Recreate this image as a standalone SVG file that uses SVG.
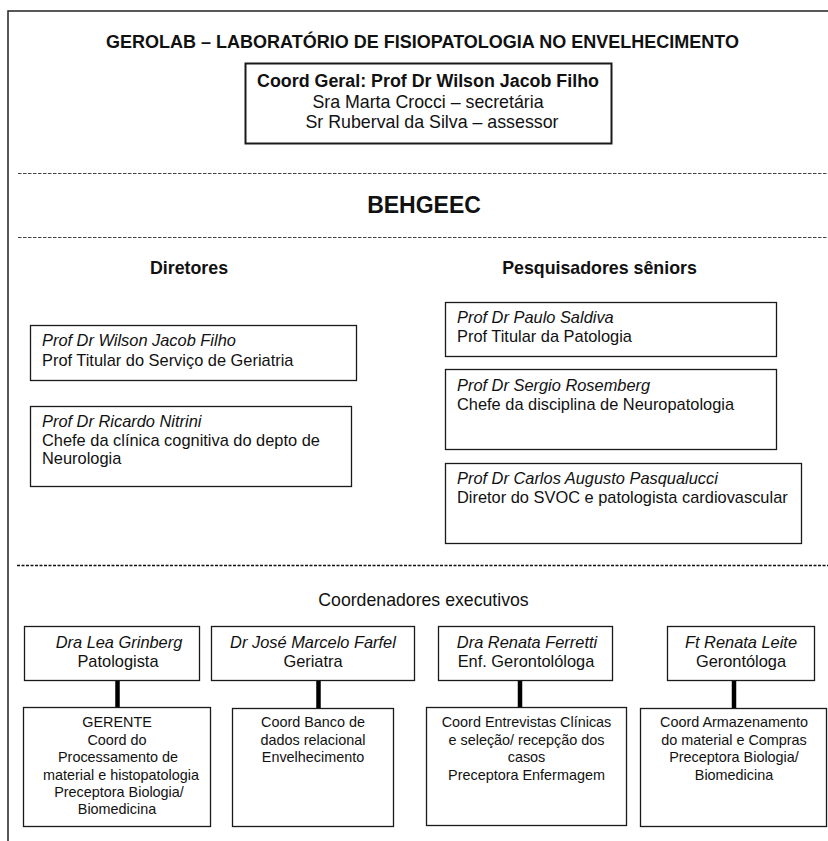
<svg xmlns="http://www.w3.org/2000/svg" width="828" height="841" viewBox="0 0 828 841">
<style>
text{font-family:"Liberation Sans",Arial,Helvetica,sans-serif;fill:#111}
.b{font-weight:bold}
.t{font-size:18px;font-weight:bold}
.h{font-size:17.8px;font-weight:bold}
.n{font-size:16.4px}
.i{font-size:16.4px;font-style:italic}
.s{font-size:14.4px}
.c{text-anchor:middle}
.box{fill:#fff;stroke:#1a1a1a;stroke-width:1.3}
.dash{stroke:#444;stroke-width:1;stroke-dasharray:3.5 1.5;fill:none}
.dash2{stroke:#111;stroke-width:1.6;stroke-dasharray:3 1.5;fill:none}
.con{stroke:#000;stroke-width:4.5;fill:none}
</style>
<rect x="0" y="0" width="828" height="841" fill="#fff"/>
<g id="frame">
<path d="M8 841 V11 H828" fill="none" stroke="#222" stroke-width="1.5"/>
<line class="dash" x1="18" y1="173.5" x2="828" y2="173.5"/>
<line class="dash" x1="18" y1="237.5" x2="828" y2="237.5"/>
<line class="dash2" x1="17" y1="565.5" x2="828" y2="565.5"/>
</g>
<g id="titles">
<text class="t c" x="422.5" y="48" textLength="633" lengthAdjust="spacingAndGlyphs">GEROLAB – LABORATÓRIO DE FISIOPATOLOGIA NO ENVELHECIMENTO</text>
<text class="b c" x="424" y="213" font-size="23">BEHGEEC</text>
<text class="h c" x="189" y="274">Diretores</text>
<text class="h c" x="599.5" y="274">Pesquisadores sêniors</text>
<text class="c" x="423.5" y="606" font-size="17.7">Coordenadores executivos</text>
</g>
<g id="coord-geral">
<rect x="245.5" y="63.5" width="366" height="80" fill="#fff" stroke="#1a1a1a" stroke-width="2"/>
<text class="t c" x="428" y="87" textLength="342" lengthAdjust="spacingAndGlyphs">Coord Geral: Prof Dr Wilson Jacob Filho</text>
<text class="c" x="428" y="108" font-size="17.8">Sra Marta Crocci – secretária</text>
<text class="c" x="432" y="128" font-size="17.8">Sr Ruberval da Silva – assessor</text>
</g>
<g id="dir-wilson">
<rect class="box" x="30.5" y="325.5" width="326" height="55"/>
<text class="i" x="42" y="346">Prof Dr Wilson Jacob Filho</text>
<text class="n" x="42" y="366">Prof Titular do Serviço de Geriatria</text>
</g>
<g id="dir-ricardo">
<rect class="box" x="30.5" y="406.5" width="321" height="80"/>
<text class="i" x="42" y="427">Prof Dr Ricardo Nitrini</text>
<text class="n" x="42" y="446">Chefe da clínica cognitiva do depto de</text>
<text class="n" x="42" y="464">Neurologia</text>
</g>
<g id="pes-saldiva">
<rect class="box" x="445.5" y="302.5" width="331" height="54"/>
<text class="i" x="457" y="323">Prof Dr Paulo Saldiva</text>
<text class="n" x="457" y="342">Prof Titular da Patologia</text>
</g>
<g id="pes-rosemberg">
<rect class="box" x="445.5" y="369.5" width="331" height="80"/>
<text class="i" x="457" y="391">Prof Dr Sergio Rosemberg</text>
<text class="n" x="457" y="410">Chefe da disciplina de Neuropatologia</text>
</g>
<g id="pes-pasqualucci">
<rect class="box" x="445.5" y="463.5" width="356" height="80"/>
<text class="i" x="457" y="484">Prof Dr Carlos Augusto Pasqualucci</text>
<text class="n" x="457" y="503">Diretor do SVOC e patologista cardiovascular</text>
</g>
<g id="connectors">
<line class="con" x1="117.5" y1="680" x2="117.5" y2="707"/>
<line class="con" x1="318.5" y1="680" x2="318.5" y2="708"/>
<line class="con" x1="520" y1="681" x2="520" y2="707"/>
<line class="con" x1="734" y1="680" x2="734" y2="708"/>
</g>
<g id="exec-lea">
<rect class="box" x="24.5" y="626.5" width="175" height="54"/>
<text class="i c" x="119" y="648">Dra Lea Grinberg</text>
<text class="n c" x="118" y="667">Patologista</text>
</g>
<g id="exec-jose">
<rect class="box" x="211.5" y="626.5" width="203" height="54"/>
<text class="i c" x="313" y="648">Dr José Marcelo Farfel</text>
<text class="n c" x="313" y="667">Geriatra</text>
</g>
<g id="exec-ferretti">
<rect class="box" x="438.5" y="626.5" width="174" height="54"/>
<text class="i c" x="527" y="648">Dra Renata Ferretti</text>
<text class="n c" x="526" y="667">Enf. Gerontolóloga</text>
</g>
<g id="exec-leite">
<rect class="box" x="667.5" y="626.5" width="147" height="54"/>
<text class="i c" x="741" y="648">Ft Renata Leite</text>
<text class="n c" x="741" y="667">Gerontóloga</text>
</g>
<g id="role-gerente">
<rect class="box" x="23.5" y="707.5" width="187" height="119"/>
<text class="s c" x="117" y="727">GERENTE</text>
<text class="s c" x="117" y="745">Coord do</text>
<text class="s c" x="118" y="762">Processamento de</text>
<text class="s c" x="121" y="780">material e histopatologia</text>
<text class="s c" x="119" y="797">Preceptora Biologia/</text>
<text class="s c" x="117" y="814">Biomedicina</text>
</g>
<g id="role-banco">
<rect class="box" x="232.5" y="708.5" width="161" height="118"/>
<text class="s c" x="313" y="727">Coord Banco de</text>
<text class="s c" x="313" y="745">dados relacional</text>
<text class="s c" x="313" y="762">Envelhecimento</text>
</g>
<g id="role-entrevistas">
<rect class="box" x="426.5" y="707.5" width="200" height="118"/>
<text class="s c" x="526.5" y="727">Coord Entrevistas Clínicas</text>
<text class="s c" x="526.5" y="745">e seleção/ recepção dos</text>
<text class="s c" x="526.5" y="762">casos</text>
<text class="s c" x="526.5" y="780">Preceptora Enfermagem</text>
</g>
<g id="role-armazenamento">
<rect class="box" x="640.5" y="708.5" width="186" height="118"/>
<text class="s c" x="734" y="727">Coord Armazenamento</text>
<text class="s c" x="734" y="745">do material e Compras</text>
<text class="s c" x="734" y="762">Preceptora Biologia/</text>
<text class="s c" x="734" y="780">Biomedicina</text>
</g>
</svg>
